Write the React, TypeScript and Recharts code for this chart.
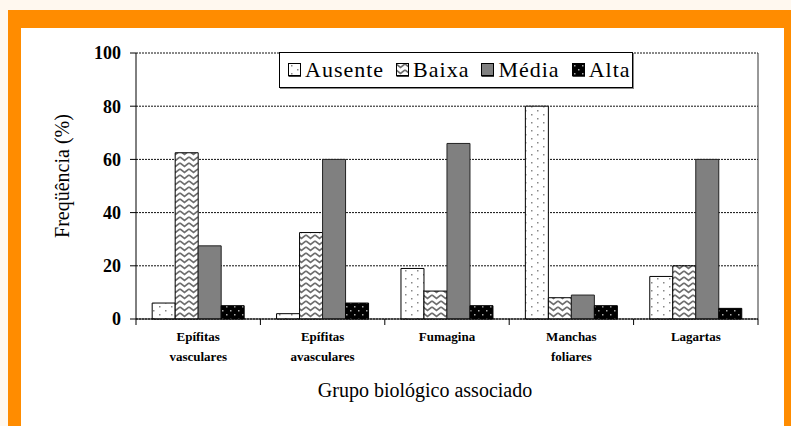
import { Bar, BarChart, CartesianGrid, Legend, XAxis, YAxis } from "recharts"

const categories = [
  "Epífitas\nvasculares",
  "Epífitas\navasculares",
  "Fumagina",
  "Manchas\nfoliares",
  "Lagartas",
]
const ausente = [6, 2, 19, 80, 16]
const baixa = [62.5, 32.5, 10.5, 8, 20]
const media = [27.5, 60, 66, 9, 60]
const alta = [5, 6, 5, 5, 4]
const yTicks = [0, 20, 40, 60, 80, 100]
const seriesNames = ["Ausente", "Baixa", "Média", "Alta"]

const data = categories.map((name, i) => ({
  name,
  Ausente: ausente[i],
  Baixa: baixa[i],
  Média: media[i],
  Alta: alta[i],
}))

const serif = "Liberation Serif, DejaVu Serif, serif"

const fills: Record<string, string> = {
  Ausente: "url(#patAusente)",
  Baixa: "url(#patBaixa)",
  Média: "#808080",
  Alta: "url(#patAlta)",
}

function CategoryTick(props: any) {
  const { x, y, payload, index, visibleTicksCount, width } = props
  const half = payload.offset ?? width / visibleTicksCount / 2
  const lines = String(payload.value).split("\n")
  const last = index === visibleTicksCount - 1
  return (
    <g>
      <line x1={x - half} x2={x - half} y1={y - 6} y2={y} stroke="#000" />
      {last && <line x1={x + half} x2={x + half} y1={y - 6} y2={y} stroke="#000" />}
      {lines.map((t, i) => (
        <text
          key={i}
          x={x}
          y={y + 16 + i * 20}
          textAnchor="middle"
          fontFamily={serif}
          fontWeight="bold"
          fontSize={13}
          fill="#000"
        >
          {t}
        </text>
      ))}
    </g>
  )
}

function LegendBox(props: any) {
  const payload = [...(props.payload || [])].sort(
    (a: any, b: any) => seriesNames.indexOf(a.value) - seriesNames.indexOf(b.value)
  )
  return (
    <div
      style={{
        display: "flex",
        alignItems: "center",
        gap: 12,
        paddingLeft: 8,
        height: 34,
        border: "1px solid #000",
        background: "#fff",
        boxShadow: "1px 1px 0 #888",
        fontFamily: serif,
        fontSize: 22,
        letterSpacing: 1,
        color: "#000",
      }}
    >
      {payload.map((p: any) => (
        <div key={p.value} style={{ display: "flex", alignItems: "center" }}>
          <svg width={14} height={14} style={{ marginRight: 3 }}>
            <rect x={0.5} y={0.5} width={12} height={12} fill={fills[p.value]} stroke="#000" />
            <line x1={0.5} x2={13} y1={13} y2={13} stroke="#000" strokeWidth={1.5} />
          </svg>
          <span>{p.value}</span>
        </div>
      ))}
    </div>
  )
}

function YLabel(props: any) {
  const vb = props.viewBox || { x: 96, y: 53, width: 40, height: 266 }
  const cx = vb.x - 34
  const cy = vb.y + vb.height / 2 - 10
  return (
    <text
      x={cx}
      y={cy}
      transform={`rotate(-90 ${cx} ${cy})`}
      textAnchor="middle"
      dominantBaseline="central"
      fontFamily={serif}
      fontSize={20}
      fill="#000"
    >
      Freqüência (%)
    </text>
  )
}

function XLabel(props: any) {
  const vb = props.viewBox || { x: 136, y: 319, width: 622, height: 60 }
  return (
    <text
      x={vb.x + vb.width / 2 - 22}
      y={vb.y + 78}
      textAnchor="middle"
      fontFamily={serif}
      fontSize={20}
      fill="#000"
    >
      Grupo biológico associado
    </text>
  )
}

export default function App() {
  return (
    <div
      style={{
        position: "absolute",
        left: 0,
        top: 0,
        width: 791,
        height: 426,
        background: "#fff8ef",
        overflow: "hidden",
        fontFamily: serif,
      }}
    >
      <div style={{ position: "absolute", left: 8, top: 10, width: 783, height: 416, background: "#ff8c00" }} />
      <div style={{ position: "absolute", left: 21, top: 28, width: 763, height: 398, background: "#fff" }} />
      <div style={{ position: "absolute", left: 0, top: 0 }}>
        <BarChart
          width={791}
          height={426}
          data={data}
          margin={{ top: 53, right: 33, left: 96, bottom: 47 }}
          barCategoryGap="13%"
          barGap={0}
        >
          <defs>
            <pattern id="patAusente" width={12} height={8} patternUnits="userSpaceOnUse">
              <rect width={12} height={8} fill="#fff" />
              <rect x={3} y={2} width={1.5} height={1.5} fill="#888" />
              <rect x={9} y={6} width={1.5} height={1.5} fill="#888" />
            </pattern>
            <pattern id="patBaixa" width={9} height={6} patternUnits="userSpaceOnUse">
              <rect width={9} height={6} fill="#fff" />
              <path d="M0,1 L4.5,4.5 L9,1" fill="none" stroke="#6e6e6e" strokeWidth={1.6} />
            </pattern>
            <pattern id="patAlta" width={8} height={8} patternUnits="userSpaceOnUse">
              <rect width={8} height={8} fill="#000" />
              <rect x={2} y={2} width={1.5} height={1.5} fill="#aaa" />
              <rect x={6} y={6} width={1.5} height={1.5} fill="#aaa" />
            </pattern>
          </defs>
          <CartesianGrid vertical={false} stroke="#111" strokeDasharray="2 1" />
          <CartesianGrid
            horizontal={false}
            stroke="#333"
            verticalCoordinatesGenerator={({ offset }: any) => [offset.left + offset.width]}
          />
          <XAxis
            dataKey="name"
            height={60}
            interval={0}
            tickLine={false}
            tickSize={6}
            tickMargin={0}
            axisLine={{ stroke: "#000" }}
            tick={<CategoryTick />}
            label={XLabel}
          />
          <YAxis
            width={40}
            domain={[0, 100]}
            ticks={yTicks}
            tickSize={6}
            tickMargin={9}
            axisLine={{ stroke: "#000" }}
            tickLine={{ stroke: "#000" }}
            tick={{ fontFamily: serif, fontWeight: "bold", fontSize: 18, fill: "#000" }}
            label={YLabel}
          />
          <Legend
            verticalAlign="middle"
            align="center"
            layout="horizontal"
            content={<LegendBox />}
            wrapperStyle={{ top: 52, left: 279, width: 354 }}
          />
          <Bar dataKey="Ausente" fill={fills.Ausente} stroke="#000" isAnimationActive={false} />
          <Bar dataKey="Baixa" fill={fills.Baixa} stroke="#000" isAnimationActive={false} />
          <Bar dataKey="Média" fill={fills["Média"]} stroke="#222" isAnimationActive={false} />
          <Bar dataKey="Alta" fill={fills.Alta} stroke="#000" isAnimationActive={false} />
        </BarChart>
      </div>
    </div>
  )
}
